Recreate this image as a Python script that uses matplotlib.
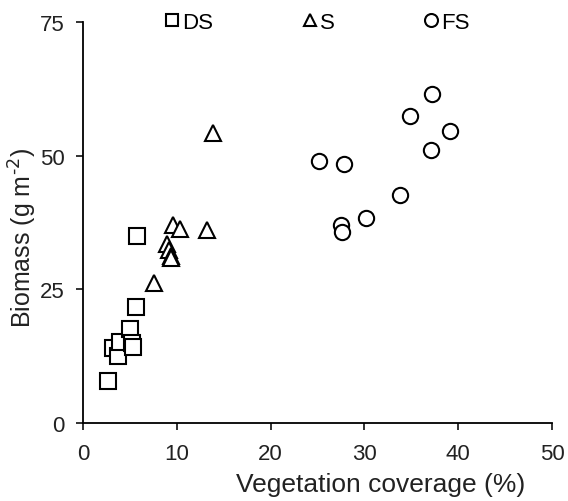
import matplotlib
matplotlib.use("Agg")
import matplotlib.pyplot as plt

plt.rcParams['font.family'] = ['Liberation Sans', 'DejaVu Sans']
plt.rcParams['mathtext.default'] = 'regular'

# Valeurs
ds_x = [2.7, 3.2, 3.7, 3.9, 5.0, 5.2, 5.3, 5.7, 5.8]
ds_y = [7.9, 14.0, 12.6, 15.1, 17.7, 15.0, 14.3, 21.8, 35.0]

s_x = [7.6, 9.0, 9.2, 9.4, 9.4, 9.6, 10.3, 13.2, 13.9]
s_y = [26.3, 33.5, 32.3, 31.2, 30.8, 37.0, 36.4, 36.1, 54.2]

fs_x = [37.2, 34.9, 39.1, 37.1, 25.2, 27.8, 33.8, 30.2, 27.5, 27.6]
fs_y = [61.6, 57.4, 54.6, 51.1, 49.0, 48.4, 42.6, 38.4, 37.1, 35.8]

groupes = [("DS", ds_x, ds_y, "s"), ("S", s_x, s_y, "^"), ("FS", fs_x, fs_y, "o")]

fig = plt.figure(figsize=(5.68, 5.02), dpi=100)
ax = fig.add_axes([0.146, 0.155, 0.826, 0.799])

for nom, xs, ys, m in groupes:
    ax.plot(xs, ys, linestyle='none', marker=m, markersize=11,
            markerfacecolor='white', markeredgecolor='black',
            markeredgewidth=1.5, label=nom)

ax.set_xlim(0, 50)
ax.set_ylim(0, 75)
ax.set_xticks([0, 10, 20, 30, 40, 50])
ax.set_yticks([0, 25, 50, 75])
ax.spines['top'].set_visible(False)
ax.spines['right'].set_visible(False)
ax.spines['left'].set_linewidth(1.3)
ax.spines['bottom'].set_linewidth(1.3)
ax.tick_params(direction='out', length=5, width=1.3, labelsize=16, colors='#222222')
ax.tick_params(axis='y', pad=8)
ax.tick_params(axis='x', pad=9)

ax.set_xlabel("Vegetation coverage (%)", fontsize=19, color='#222222')
ax.xaxis.set_label_coords(0.635, -0.122)
ax.set_ylabel(r"Biomass (g m$^{\text{-2}}$)", fontsize=18, color='#222222')
ax.yaxis.set_label_coords(-0.094, 0.465)

ax.legend(loc='center', bbox_to_anchor=(0.5, 1.0), ncol=3, frameon=False,
          fontsize=16, markerscale=0.85, handlelength=0.6, handletextpad=0.15,
          columnspacing=4.05)

fig.savefig("out.png", dpi=100)
